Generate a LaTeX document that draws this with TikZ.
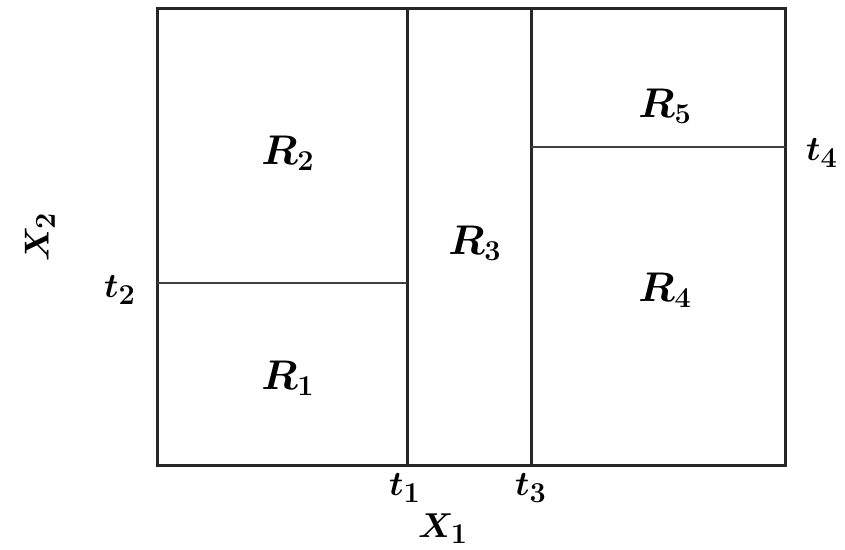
\documentclass[tikz,border=0pt]{standalone}
\usepackage{amsmath,amssymb}
\usepackage{tikz}
\usetikzlibrary{positioning,calc}
\tikzset{
  frameln/.style={line width=1.5pt, black!85},
  splitln/.style={line width=1.5pt, black!85},
  cutln/.style={line width=1pt, black!75},
  reglbl/.style={font=\fontsize{22}{26}\selectfont\boldmath, inner sep=1pt},
  ticklbl/.style={font=\fontsize{19}{23}\selectfont\boldmath, inner sep=0pt},
}
\begin{document}
\begin{tikzpicture}[x=0.5pt, y=-0.5pt]
    \useasboundingbox (0,0) rectangle (845,550);
    % frame
    \coordinate (nw) at (157,9);
    \coordinate (ne) at (785,9);
    \coordinate (se) at (785,465);
    \coordinate (sw) at (157,465);
    \draw[frameln] (nw) -- (ne) -- (se) -- (sw) -- cycle;
    % split points
    \coordinate (t1top) at (407,9);
    \coordinate (t1bot) at (407,465);
    \coordinate (t3top) at (531,9);
    \coordinate (t3bot) at (531,465);
    \coordinate (t2left) at (157,283);
    \coordinate (t2right) at (407,283);
    \coordinate (t4left) at (531,147);
    \coordinate (t4right) at (785,147);
    \draw[splitln] (t1top) -- (t1bot);
    \draw[splitln] (t3top) -- (t3bot);
    \draw[cutln] (t2left) -- (t2right);
    \draw[cutln] (t4left) -- (t4right);
    % regions
    \node[reglbl] (r1) at (288,378) {$R_1$};
    \node[reglbl] (r2) at (288,153) {$R_2$};
    \node[reglbl] (r3) at (475,243) {$R_3$};
    \node[reglbl] (r4) at (665,290) {$R_4$};
    \node[reglbl] (r5) at (665,106) {$R_5$};
    % thresholds
    \node[ticklbl] (t1) at (405,488) {$t_1$};
    \node[ticklbl] (t3) at (531,488) {$t_3$};
    \node[ticklbl] (t2) at (120,290) {$t_2$};
    \node[ticklbl] (t4) at (822,153) {$t_4$};
    % axes
    \node[ticklbl] (x1) at (443,529) {$X_1$};
    \node[ticklbl, rotate=90] (x2) at (40,237) {$X_2$};
  \end{tikzpicture}
\end{document}
